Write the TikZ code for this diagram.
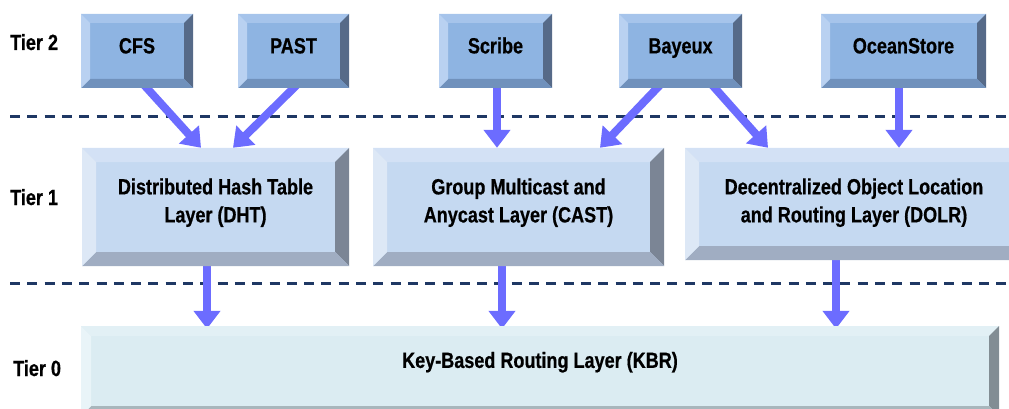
\documentclass[tikz,border=0pt]{standalone}
\usepackage{fontspec}
\setmainfont{Liberation Sans}[FakeStretch=0.82, BoldFeatures={FakeBold=0.6}]
\usetikzlibrary{arrows.meta,backgrounds}

% tier 2 (applications)
\definecolor{tAface}{RGB}{142,180,226}
\definecolor{tAtop}{RGB}{166,196,235}
\definecolor{tAleft}{RGB}{185,209,241}
\definecolor{tAright}{RGB}{86,106,136}
\definecolor{tAbottom}{RGB}{112,145,188}
% tier 1 (abstractions)
\definecolor{tBface}{RGB}{197,217,241}
\definecolor{tBtop}{RGB}{211,225,245}
\definecolor{tBleft}{RGB}{221,232,246}
\definecolor{tBright}{RGB}{123,133,149}
\definecolor{tBbottom}{RGB}{160,173,194}
% tier 0 (routing)
\definecolor{tCface}{RGB}{219,236,242}
\definecolor{tCtop}{RGB}{226,240,245}
\definecolor{tCleft}{RGB}{233,244,248}
\definecolor{tCright}{RGB}{130,141,148}
\definecolor{tCbottom}{RGB}{168,182,188}
\definecolor{flow}{RGB}{108,108,255}
\definecolor{tierline}{RGB}{31,56,100}

\tikzset{
  % bevelled box: size, face, top, right, bottom, left
  bevelled/.style n args={6}{
    rectangle, inner sep=0pt, fill=#2,
    path picture={
      \path (path picture bounding box.north west) coordinate (bvnw)
            (path picture bounding box.north east) coordinate (bvne)
            (path picture bounding box.south west) coordinate (bvsw)
            (path picture bounding box.south east) coordinate (bvse);
      \fill[#3] (bvnw) -- (bvne) -- ([shift={(-#1,-#1)}]bvne) -- ([shift={(#1,-#1)}]bvnw) -- cycle;
      \fill[#4] (bvne) -- (bvse) -- ([shift={(-#1,#1)}]bvse) -- ([shift={(-#1,-#1)}]bvne) -- cycle;
      \fill[#5] (bvsw) -- (bvse) -- ([shift={(-#1,#1)}]bvse) -- ([shift={(#1,#1)}]bvsw) -- cycle;
      \fill[#6] (bvnw) -- (bvsw) -- ([shift={(#1,#1)}]bvsw) -- ([shift={(#1,-#1)}]bvnw) -- cycle;
    }},
  labelfont/.style={font=\bfseries\fontsize{22}{28}\selectfont},
  tierA/.style={bevelled={9pt}{tAface}{tAtop}{tAright}{tAbottom}{tAleft},
    minimum height=74pt, labelfont, text height=16pt, text depth=11.2pt},
  tierB/.style={bevelled={14pt}{tBface}{tBtop}{tBright}{tBbottom}{tBleft}},
  tierC/.style={bevelled={10pt}{tCface}{tCtop}{tCright}{tCbottom}{tCleft}},
  layertext/.style={labelfont, align=center, inner sep=0pt},
  tiername/.style={labelfont, anchor=base west, inner sep=0pt},
  flowarrow/.style={draw=flow, line width=8pt, shorten <=-8pt,
    -{Triangle[width=26pt,length=18pt]}},
  tiersep/.style={draw=tierline, line width=3pt, dash pattern=on 10pt off 7.3pt},
}

\begin{document}
\begin{tikzpicture}[x=1pt,y=-1pt]
\useasboundingbox (0,0) rectangle (1009,409);
\clip (0,0) rectangle (1009,409);

% tier names
\node[tiername] (tier2) at (10,50) {Tier 2};
\node[tiername] (tier1) at (10,205) {Tier 1};
\node[tiername] (tier0) at (13,376) {Tier 0};

% tier 2: applications
\node[tierA, minimum width=112pt] (cfs)    at (137,51)   {CFS};
\node[tierA, minimum width=111pt] (past)   at (293.5,51) {PAST};
\node[tierA, minimum width=113pt] (scribe) at (495.5,51) {Scribe};
\node[tierA, minimum width=123pt] (bayeux) at (680.5,51) {Bayeux};
\node[tierA, minimum width=165pt] (ocean)  at (903.5,51) {OceanStore};

% tier 1: abstractions
\node[tierB, minimum width=267pt, minimum height=118pt,
  label={[layertext, name=dht-text, yshift=4.3pt]center:{Distributed Hash Table\\Layer (DHT)}}]
  (dht) at (215.5,207) {};
\node[tierB, minimum width=291pt, minimum height=118pt,
  label={[layertext, name=cast-text, yshift=4.3pt]center:{Group Multicast and\\Anycast Layer (CAST)}}]
  (cast) at (518.5,207) {};
\node[tierB, minimum width=338pt, minimum height=112pt,
  label={[layertext, name=dolr-text, yshift=1.3pt]center:{Decentralized Object Location\\and Routing Layer (DOLR)}}]
  (dolr) at (854,204) {};

% tier 0: routing
\node[tierC, minimum width=918pt, minimum height=90pt, labelfont,
  text height=16pt, text depth=22.2pt] (kbr) at (540,371) {Key-Based Routing Layer (KBR)};

\begin{scope}[on background layer]
  \draw[tiersep] (10,117) -- (1009,117);
  \draw[tiersep] (10,283) -- (1009,283);

  \draw[flowarrow] ([xshift=10pt]cfs.south)      -- ([xshift=-14.5pt]dht.north);
  \draw[flowarrow] (past.south)                  -- ([xshift=17.5pt]dht.north);
  \draw[flowarrow] ([xshift=1.5pt]scribe.south)  -- ([xshift=-21.5pt]cast.north);
  \draw[flowarrow] ([xshift=-23.5pt]bayeux.south) -- ([xshift=81.5pt]cast.north);
  \draw[flowarrow] ([xshift=34.5pt]bayeux.south) -- ([xshift=-86pt]dolr.north);
  \draw[flowarrow] ([xshift=-4.5pt]ocean.south)  -- ([xshift=45pt]dolr.north);

  \draw[flowarrow] ([xshift=-8.5pt]dht.south)  -- ([xshift=-333pt,yshift=-3pt]kbr.north);
  \draw[flowarrow] ([xshift=-16.5pt]cast.south) -- ([xshift=-38pt,yshift=-3pt]kbr.north);
  \draw[flowarrow] ([xshift=-18pt]dolr.south)  -- ([xshift=296pt,yshift=-3pt]kbr.north);
\end{scope}
\end{tikzpicture}
\end{document}
